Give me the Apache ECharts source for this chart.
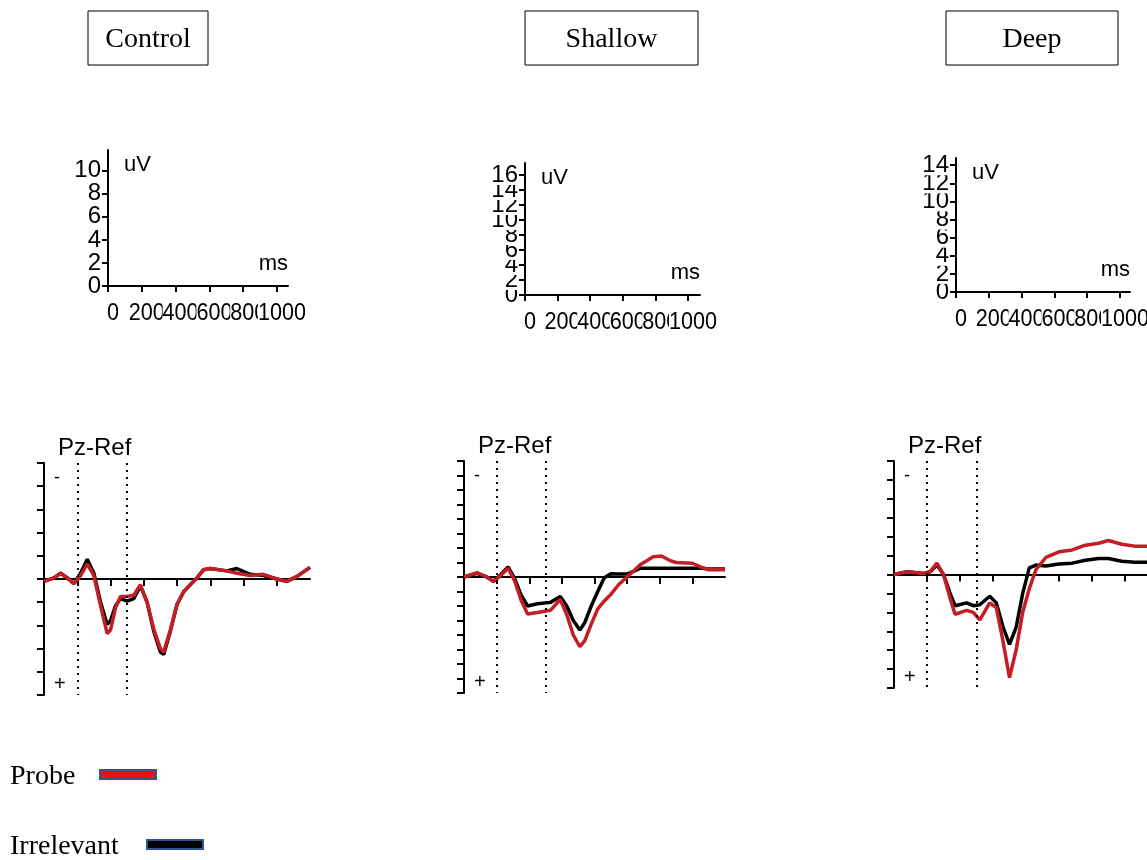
<!DOCTYPE html>
<html>
<head>
<meta charset="utf-8">
<script src="https://cdn.jsdelivr.net/npm/echarts@6/dist/echarts.min.js"></script>
<style>
  html, body { margin: 0; background: #fff; }
  #chart { width: 1147px; height: 860px; }
</style>
</head>
<body>
<div id="chart"></div>
<script>
// ---- data ----
const conditions = ['Control', 'Shallow', 'Deep'];
const channelName = 'Pz-Ref';

// calibration panels (uV / ms)
const scaleXTicks = [0, 200, 400, 600, 800, 1000];
const controlScaleTicks = [0, 2, 4, 6, 8, 10];
const shallowScaleTicks = [0, 2, 4, 6, 8, 10, 12, 14, 16];
const deepScaleTicks = [0, 2, 4, 6, 8, 10, 12, 14];

// ERP amplitude range (uV, negative up)
const erpRanges = [10, 16, 12];
const erpTickStep = 2;
const erpTimeTicks = [0, 200, 400, 600, 800, 1000, 1200];
const windowMarks = [0, 300];

// waveforms: time (ms) and amplitude (uV)
const controlTimes = [-200, -140, -100, -60, -20, 20, 60, 100, 140, 180, 200, 230, 260, 300, 340,
  380, 420, 460, 500, 520, 560, 600, 640, 680, 720, 760, 800, 900, 960, 1040, 1120, 1200, 1260, 1320, 1400];
const controlIrrelevant = [0.2, -0.1, -0.5, -0.1, 0.4, -0.5, -1.7, -0.5, 2.0, 3.9, 3.6, 2.3, 1.7, 1.9, 1.7,
  0.6, 2.0, 4.5, 6.3, 6.5, 4.5, 2.2, 1.1, 0.5, -0.1, -0.8, -0.9, -0.7, -0.9, -0.4, -0.3, 0, 0.2, -0.2, -1.0];
const controlProbe = [0.2, -0.1, -0.5, -0.1, 0.4, -0.3, -1.3, -0.3, 2.3, 4.7, 4.4, 2.5, 1.5, 1.5, 1.4,
  0.5, 2.0, 4.3, 6.0, 6.3, 4.4, 2.2, 1.1, 0.5, -0.1, -0.8, -0.9, -0.7, -0.5, -0.3, -0.4, 0, 0.2, -0.2, -1.0];

const shallowTimes = [-200, -120, -60, -20, 20, 70, 110, 150, 190, 250, 330, 390, 430, 470, 510,
  540, 580, 620, 660, 700, 750, 800, 880, 960, 1010, 1060, 1100, 1200, 1260, 1300, 1400];
const shallowIrrelevant = [0, -0.5, 0, 0.6, -0.2, -1.4, 0.2, 2.5, 4.0, 3.7, 3.5, 2.7, 4.0, 6.0, 7.3,
  6.3, 4.0, 2.0, 0.1, -0.45, -0.4, -0.4, -1.2, -1.2, -1.2, -1.2, -1.2, -1.2, -1.2, -1.1, -1.1];
const shallowProbe = [0, -0.6, 0, 0.6, -0.1, -1.2, 0.5, 3.2, 5.1, 4.9, 4.6, 3.1, 5.2, 8.0, 9.6,
  8.8, 6.5, 4.4, 3.3, 2.4, 1.0, 0, -1.7, -2.8, -2.9, -2.3, -2.0, -1.9, -1.3, -1.0, -1.0];

const deepTimes = [-200, -120, -20, 20, 60, 100, 140, 170, 240, 280, 320, 380, 420, 460, 500,
  540, 580, 620, 660, 720, 800, 880, 960, 1040, 1100, 1180, 1260, 1340];
const deepIrrelevant = [0, -0.3, -0.1, -0.3, -1.0, 0, 2.0, 3.3, 3.0, 3.3, 3.2, 2.3, 3.0, 5.5, 7.4,
  5.6, 2.0, -0.7, -1.0, -0.9, -1.1, -1.2, -1.5, -1.7, -1.7, -1.4, -1.3, -1.3];
const deepProbe = [0, -0.3, -0.1, -0.3, -1.2, 0, 2.5, 4.2, 3.8, 4.0, 4.8, 3.0, 3.5, 7.0, 10.9,
  8.0, 4.0, 1.5, -0.5, -1.8, -2.4, -2.6, -3.1, -3.3, -3.6, -3.2, -3.0, -3.0];

const seriesNames = ['Probe', 'Irrelevant'];
const seriesColors = ['#c41e24', '#000000'];

// ---- layout ----
const boxes = [[88, 11, 120, 54], [525, 11, 173, 54], [946, 11, 172, 54]];
const scaleGrids = [[108, 150, 180, 136], [525, 163, 175, 132], [956, 158, 174, 134]];
const scaleYMax = [11.8, 17.6, 14.8];
const scaleXMax = [1065, 1074, 1061];
const erpGrids = [[44, 463, 266, 232], [464, 461, 261, 232], [894, 461, 264, 227]];

const scaleTicks = [controlScaleTicks, shallowScaleTicks, deepScaleTicks];
const waves = [
  [controlTimes, controlProbe, controlIrrelevant],
  [shallowTimes, shallowProbe, shallowIrrelevant],
  [deepTimes, deepProbe, deepIrrelevant],
];

const pixelFont = 'Liberation Sans, Arial, sans-serif';
const serifFont = '"Liberation Serif", "Times New Roman", serif';
const blackLine = { color: '#000', width: 2 };

const grid = [];
const xAxis = [];
const yAxis = [];
const series = [];
const graphic = [];
const scaleGridIndex = [];

const text = (str, x, y, font, align) => ({
  type: 'text',
  style: { text: str, x, y, font, fill: '#000', textAlign: align || 'left', textVerticalAlign: 'middle' },
});

conditions.forEach((name, i) => {
  const [bx, by, bw, bh] = boxes[i];
  graphic.push({
    type: 'rect', shape: { x: bx, y: by, width: bw, height: bh },
    style: { fill: '#fff', stroke: '#000', lineWidth: 1 },
  });
  graphic.push(text(name, bx + bw / 2, by + bh / 2 + 2, '28px ' + serifFont, 'center'));

  // calibration panel (labels are placed after layout, see below)
  const [sl, st, sw, sh] = scaleGrids[i];
  const sIdx = grid.length;
  scaleGridIndex.push(sIdx);
  grid.push({ left: sl, top: st, width: sw, height: sh, outerBoundsMode: 'none' });
  xAxis.push({
    gridIndex: sIdx, type: 'value', min: 0, max: scaleXMax[i],
    splitLine: { show: false },
    axisLine: { lineStyle: blackLine },
    axisTick: { length: 6, lineStyle: blackLine, customValues: scaleXTicks },
    axisLabel: { show: false },
  });
  yAxis.push({
    gridIndex: sIdx, type: 'value', min: 0, max: scaleYMax[i],
    splitLine: { show: false },
    axisLine: { lineStyle: blackLine },
    axisTick: { length: 6, lineStyle: blackLine, customValues: scaleTicks[i] },
    axisLabel: { show: false },
  });
  graphic.push(text('uV', sl + 16, st + 15, '22px ' + pixelFont));
  graphic.push(text('ms', sl + sw, st + sh - 22, '22px ' + pixelFont, 'right'));

  // ERP panel
  const [el, et, ew, eh] = erpGrids[i];
  const eIdx = grid.length;
  const r = erpRanges[i];
  grid.push({ left: el, top: et, width: ew, height: eh, outerBoundsMode: 'none' });
  xAxis.push({
    gridIndex: eIdx, type: 'value', min: -200, max: 1400, interval: 200,
    splitLine: { show: false },
    axisLine: { onZero: true, lineStyle: blackLine },
    axisTick: { length: 7, lineStyle: blackLine, customValues: erpTimeTicks },
    axisLabel: { show: false },
  });
  yAxis.push({
    gridIndex: eIdx, type: 'value', inverse: true, min: -r, max: r, interval: erpTickStep,
    splitLine: { show: false },
    axisLine: { onZero: false, lineStyle: blackLine },
    axisTick: { length: 7, lineStyle: blackLine },
    axisLabel: { show: false },
  });

  const [times, probe, irrelevant] = waves[i];
  [irrelevant, probe].forEach((vals, k) => {
    const color = k === 0 ? seriesColors[1] : seriesColors[0];
    series.push({
      type: 'line', name: k === 0 ? seriesNames[1] : seriesNames[0],
      xAxisIndex: eIdx, yAxisIndex: eIdx,
      data: times.map((t, j) => [t, vals[j]]),
      showSymbol: false, smooth: false,
      lineStyle: { color, width: 3.5 }, itemStyle: { color },
      markLine: k === 0 ? {
        silent: true, symbol: ['none', 'none'], label: { show: false },
        lineStyle: { color: '#000', type: [2, 5], width: 2 },
        data: windowMarks.map((m) => ({ xAxis: m })),
      } : undefined,
    });
  });

  graphic.push(text(channelName, el + 14, et - 15, '24px ' + pixelFont));
  graphic.push(text('-', el + 10, et + 15, '18px ' + pixelFont));
  graphic.push(text('+', el + 10, et + eh - 11, '20px ' + pixelFont));
});

// legend (drawn by hand to match the figure)
const legendRows = [[10, 777, 100, 770, 56], [10, 847, 147, 840, 56]];
seriesNames.forEach((n, k) => {
  const [tx, ty, rx, ry, rw] = legendRows[k];
  graphic.push(text(n, tx, ty, '28px ' + serifFont));
  graphic.push({
    type: 'rect', shape: { x: rx, y: ry, width: rw, height: 9 },
    style: { fill: k === 0 ? '#ee1111' : '#000', stroke: '#2f5597', lineWidth: 2 },
  });
});

const chart = echarts.init(document.getElementById('chart'));
chart.setOption({ animation: false, backgroundColor: '#fff', grid, xAxis, yAxis, series, graphic });

// calibration tick labels: white-backed, drawn in order so that later labels
// cover earlier ones (as in the original acquisition software)
const tickLabel = (str, pos, align, sx) => ({
  type: 'text', x: pos[0], y: pos[1], scaleX: sx,
  style: {
    text: str, x: 0, y: 0, font: '24px ' + pixelFont, fill: '#000', backgroundColor: '#fff',
    textAlign: align, textVerticalAlign: 'middle', lineHeight: 20,
  },
});
const labels = [];
scaleGridIndex.forEach((gi, i) => {
  scaleXTicks.forEach((v) => {
    const p = chart.convertToPixel({ gridIndex: gi }, [v, 0]);
    labels.push(tickLabel(String(v), [p[0] + 5, p[1] + 27], 'center', 0.9));
  });
  scaleTicks[i].forEach((v) => {
    const p = chart.convertToPixel({ gridIndex: gi }, [0, v]);
    labels.push(tickLabel(String(v), [p[0] - 7, p[1]], 'right', 1));
  });
});
chart.setOption({ graphic: graphic.concat(labels) });
</script>
</body>
</html>
